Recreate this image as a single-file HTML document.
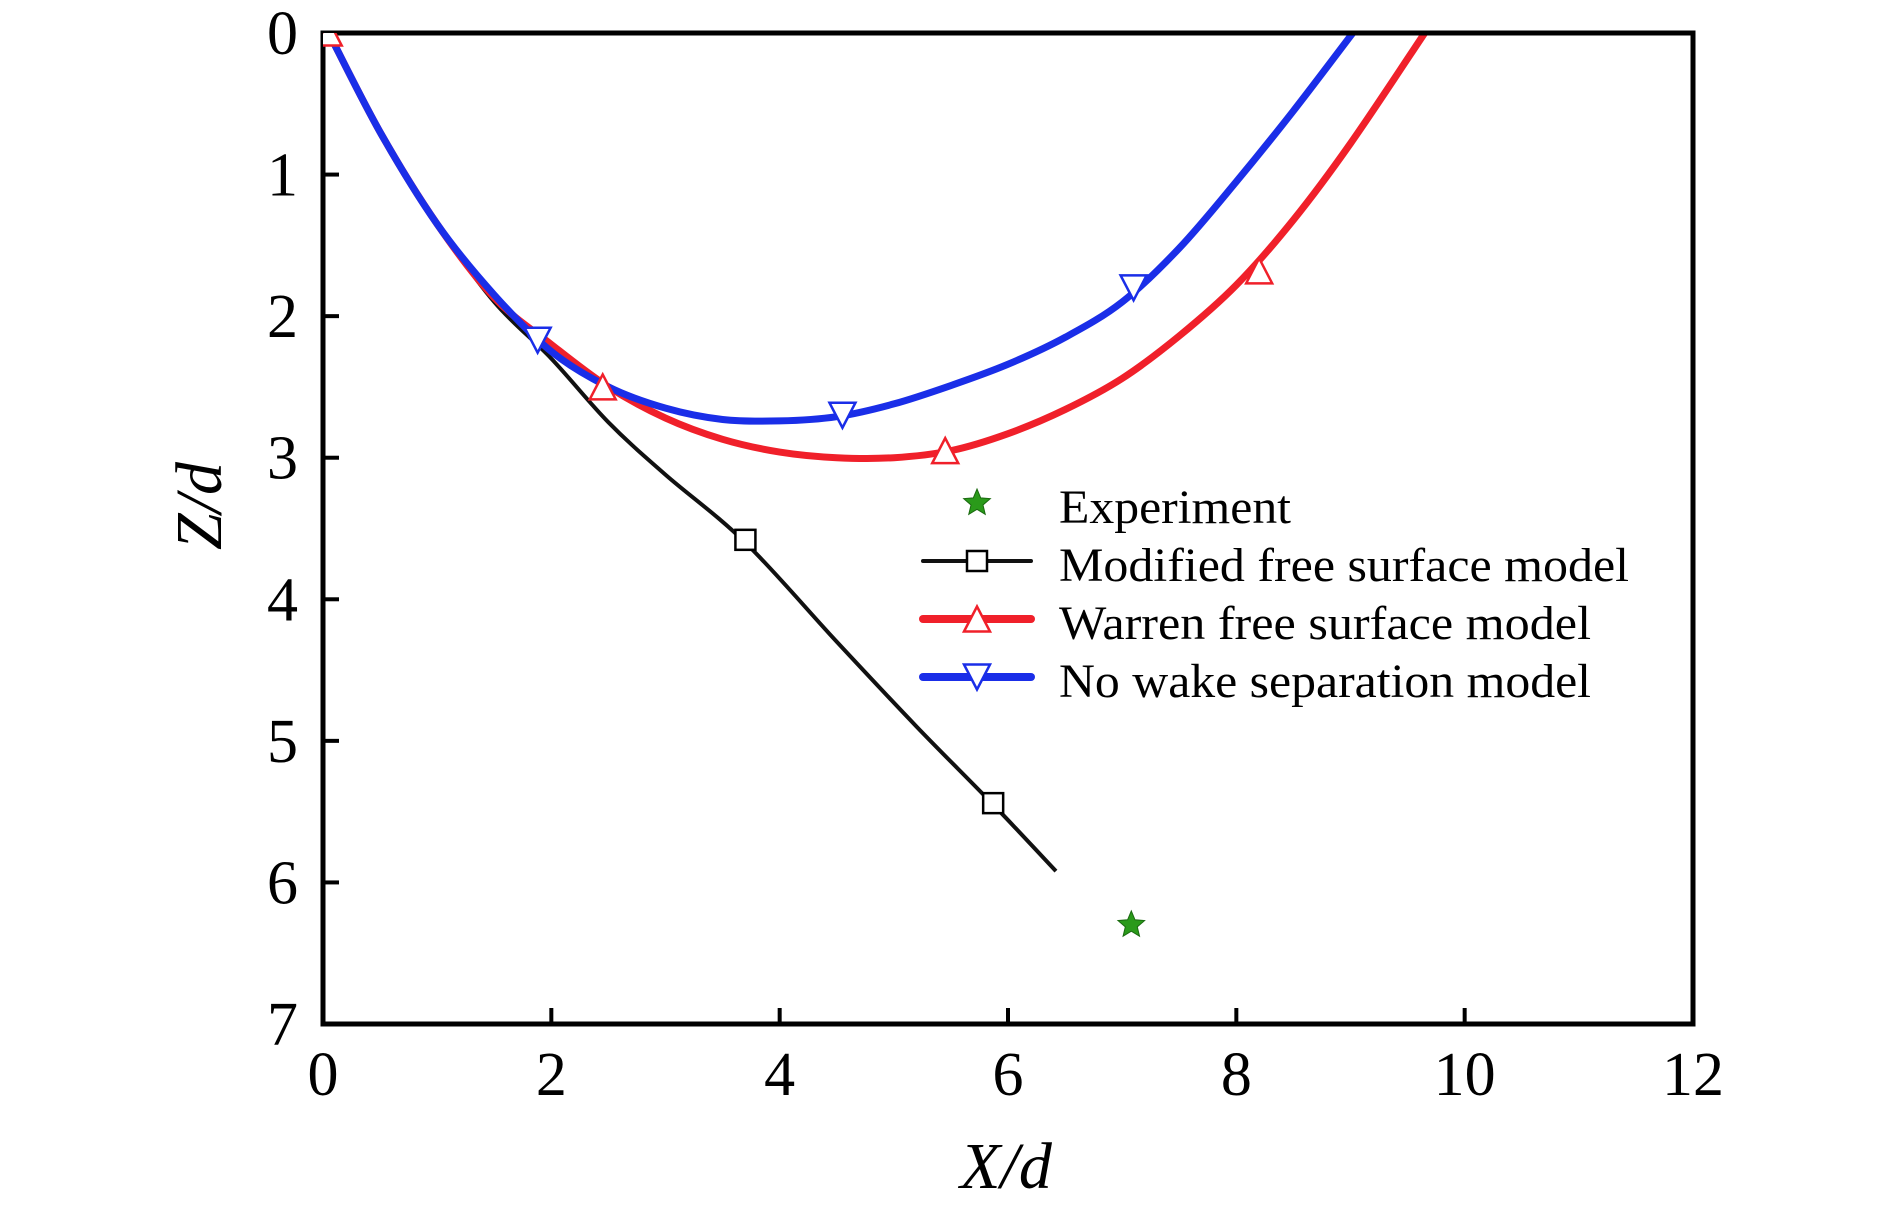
<!DOCTYPE html>
<html><head><meta charset="utf-8"><style>
html,body{margin:0;padding:0;background:#fff;}
svg{display:block;font-family:"Liberation Serif",serif;}
</style></head><body>
<svg id="chart" width="1890" height="1211" viewBox="0 0 1890 1211"></svg>
<script>
const xTicks=[0,2,4,6,8,10,12];
const zTicks=[0,1,2,3,4,5,6,7];
const blueX=[0.05,0.5,1,1.5,2,2.5,3,3.5,4,4.5,5,5.5,6,6.5,7,7.5,8,8.5,9.02];
const blueZ=[0,0.7,1.35,1.85,2.25,2.5,2.65,2.73,2.74,2.71,2.62,2.49,2.34,2.15,1.9,1.52,1.05,0.55,0];
const blueMX=[1.88,4.55,7.1];
const blueMZ=[2.17,2.7,1.8];
const redX=[0.05,0.5,1,1.5,2,2.5,3,3.5,4,4.5,5,5.5,6,6.5,7,7.5,8,8.5,9,9.65];
const redZ=[0,0.7,1.35,1.87,2.2,2.5,2.72,2.87,2.96,3.0,3.0,2.95,2.83,2.66,2.44,2.14,1.78,1.32,0.78,0];
const redMX=[0.05,2.45,5.45,8.2];
const redMZ=[0,2.5,2.95,1.68];
const blackX=[0.05,0.5,1,1.5,2,2.5,3,3.7,4.5,5.2,5.87,6.42];
const blackZ=[0,0.7,1.35,1.9,2.3,2.75,3.12,3.6,4.3,4.9,5.45,5.92];
const blackMX=[3.7,5.87];
const blackMZ=[3.58,5.44];
const expX=[7.08];
const expZ=[6.3];

const L=323,R=1693,T=33,B=1024;
const sx=v=>L+v/12*(R-L);
const sy=v=>T+v/7*(B-T);
const svg=document.getElementById('chart');
const NS='http://www.w3.org/2000/svg';
function mk(tag,attrs,parent){const e=document.createElementNS(NS,tag);for(const k in attrs)e.setAttribute(k,attrs[k]);(parent||svg).appendChild(e);return e;}

const defs=mk('defs',{});
const cp=mk('clipPath',{id:'plotclip'},defs);
mk('rect',{x:L,y:T,width:R-L,height:B-T},cp);

xTicks.forEach(v=>{
  const t=mk('line',{x1:sx(v),x2:sx(v),y1:B,y2:B-16,stroke:'#000','stroke-width':4});
  
  
  const l=mk('text',{x:sx(v),y:1095,'font-size':62,'text-anchor':'middle'});
  l.textContent=v;
  
  
});
zTicks.forEach(v=>{
  const t=mk('line',{x1:L,x2:L+16,y1:sy(v),y2:sy(v),stroke:'#000','stroke-width':4});
  
  
  const l=mk('text',{x:298,y:sy(v)+21,'font-size':62,'text-anchor':'end'});
  l.textContent=v;
  
  
});

const xt=mk('text',{x:1006,y:1188,'font-size':66,'font-style':'italic','text-anchor':'middle'});
xt.textContent='X/d';


const zt=mk('text',{x:0,y:0,'font-size':66,'font-style':'italic','text-anchor':'middle',transform:'translate(221,506) rotate(-90)'});
zt.textContent='Z/d';



function path(xs,zs){
  const pts=xs.map((x,i)=>[sx(x),sy(zs[i])]);
  let d='M'+pts[0][0]+','+pts[0][1];
  for(let i=0;i<pts.length-1;i++){
    const p0=pts[i-1]||pts[i],p1=pts[i],p2=pts[i+1],p3=pts[i+2]||p2;
    const c1=[p1[0]+(p2[0]-p0[0])/6,p1[1]+(p2[1]-p0[1])/6];
    const c2=[p2[0]-(p3[0]-p1[0])/6,p2[1]-(p3[1]-p1[1])/6];
    d+=' C'+c1+' '+c2+' '+p2;
  }
  return d;
}
function tri(cx,cy,up,color){
  const w=13,h=12.5;
  const p=up?[[cx,cy-h],[cx-w,cy+h],[cx+w,cy+h]]:[[cx,cy+h],[cx-w,cy-h],[cx+w,cy-h]];
  return mk('polygon',{points:p.map(q=>q.join(',')).join(' '),fill:'#fff',stroke:color,'stroke-width':2.5});
}
function sq(cx,cy){return mk('rect',{x:cx-10,y:cy-10,width:20,height:20,fill:'#fff',stroke:'#000','stroke-width':2.5});}
function star(cx,cy,r){
  let p=[];for(let i=0;i<10;i++){const a=-Math.PI/2+i*Math.PI/5;const rr=i%2?r*0.45:r;p.push((cx+rr*Math.cos(a))+','+(cy+rr*Math.sin(a)));}
  return mk('polygon',{points:p.join(' '),fill:'#2a9a1a',stroke:'#1a6a10','stroke-width':1});
}

const g=mk('g',{'clip-path':'url(#plotclip)'});


const bl=mk('path',{d:path(blackX,blackZ),fill:'none',stroke:'#111','stroke-width':4},g);


const rl=mk('path',{d:path(redX,redZ),fill:'none',stroke:'#f0202a','stroke-width':7},g);


const bll=mk('path',{d:path(blueX,blueZ),fill:'none',stroke:'#1a2ee8','stroke-width':7},g);



const frame=mk('rect',{x:L,y:T,width:R-L,height:B-T,fill:'none',stroke:'#000','stroke-width':5});



blackMX.forEach((x,i)=>{const m=sq(sx(x),sy(blackMZ[i]));
  
  });
redMX.forEach((x,i)=>{const m=tri(sx(x),sy(redMZ[i]),true,'#f0202a');
  
  
  if(redMZ[i]<0.2) m.setAttribute('clip-path','url(#plotclip)');});
blueMX.forEach((x,i)=>{const m=tri(sx(x),sy(blueMZ[i]),false,'#1a2ee8');
  
  });
expX.forEach((x,i)=>{const m=star(sx(x),sy(expZ[i]),14);
  
  });

const lg=mk('g',{});


const rows=[['Experiment',null,232],['Modified free surface model','#111',570],['Warren free surface model','#f0202a',532],['No wake separation model','#1a2ee8',532]];
const ys=[503,561,619,677];
rows.forEach((r,i)=>{
  const y=ys[i];
  if(i===0){const s=star(977,y,14);}
  else{
    const ln=mk('line',{x1:923,x2:1031,y1:y,y2:y,stroke:r[1],'stroke-width':i===1?4:8,'stroke-linecap':'round'},lg);
    
    
    const m=i===1?sq(977,y):tri(977,y,i===2,r[1]);
    
    
  }
  const t=mk('text',{x:1059,y:y+20,'font-size':48,textLength:r[2],lengthAdjust:'spacingAndGlyphs'},lg);
  t.textContent=r[0];
  
  
});
</script>
</body></html>
